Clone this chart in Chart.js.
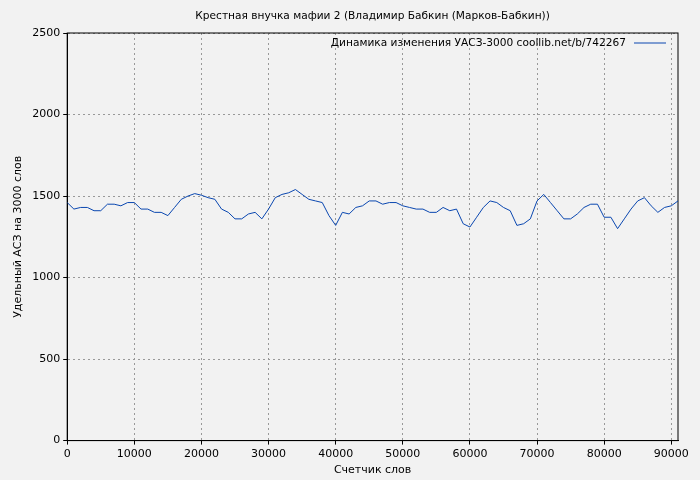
<!DOCTYPE html>
<html><head><meta charset="utf-8">
<script src="https://cdn.jsdelivr.net/npm/chart.js@4"></script>
<style>body{margin:0;background:#f2f2f2}#wrap{width:700px;height:480px}</style>
</head><body><div id="wrap"><canvas id="c"></canvas></div>
<script>
// words counted, one point per thousand
const words = [];
for (let i = 0; i <= 91; i++) words.push(i * 1000);
const uasz = [1460,1420,1430,1430,1410,1410,1450,1450,1440,1460,1460,1420,1420,1400,1400,1380,1430,1480,1500,1515,
  1505,1490,1480,1420,1400,1360,1360,1390,1400,1360,1420,1490,1510,1520,1540,1510,1480,1470,1460,1380,
  1320,1400,1390,1430,1440,1470,1470,1450,1460,1460,1440,1430,1420,1420,1400,1400,1430,1410,1420,1330,
  1310,1370,1430,1470,1460,1430,1410,1320,1330,1360,1470,1510,1460,1410,1360,1360,1390,1430,1450,1450,
  1370,1370,1300,1360,1420,1470,1490,1440,1400,1430,1440,1470];
const xTicks = [0,10000,20000,30000,40000,50000,60000,70000,80000,90000];
const chartTitle = 'Крестная внучка мафии 2 (Владимир Бабкин (Марков-Бабкин))';
const seriesLabel = 'Динамика изменения УАСЗ-3000 coollib.net/b/742267';

// title centred over the plot, legend inside top-right
const textPlugin = {
  id: 'texts',
  afterDraw(chart) {
    const { ctx, chartArea } = chart;
    ctx.save();
    ctx.font = '10.6px "DejaVu Sans"';
    ctx.fillStyle = '#000';
    ctx.textBaseline = 'middle';
    ctx.textAlign = 'center';
    ctx.fillText(chartTitle, (chartArea.left + chartArea.right) / 2, 16);
    ctx.textAlign = 'right';
    const y = chartArea.top + 10;
    ctx.fillText(seriesLabel, chartArea.right - 52, y);
    ctx.strokeStyle = '#0a47b0';
    ctx.lineWidth = 1;
    ctx.beginPath();
    ctx.moveTo(chartArea.right - 44, y);
    ctx.lineTo(chartArea.right - 12, y);
    ctx.stroke();
    ctx.restore();
  }
};

const font = { family: 'DejaVu Sans', size: 11 };

new Chart(document.getElementById('c'), {
  type: 'line',
  data: {
    datasets: [{
      data: words.map((w, i) => ({ x: w, y: uasz[i] })),
      borderColor: '#0a47b0',
      borderWidth: 1,
      pointRadius: 0,
      tension: 0
    }]
  },
  options: {
    responsive: true,
    maintainAspectRatio: false,
    animation: false,
    layout: { padding: { right: 22, left: 8, bottom: 3, top: 33 } },
    plugins: { legend: { display: false }, title: { display: false } },
    scales: {
      x: {
        type: 'linear', min: 0, max: 91000,
        afterBuildTicks: a => { a.ticks = xTicks.map(v => ({ value: v })); },
        ticks: { color: '#000', font, maxRotation: 0, callback: v => String(v) },
        grid: { color: '#999', tickColor: '#000', tickLength: 4 },
        border: { color: '#000', width: 1, dash: [2, 3] },
        title: { display: true, text: 'Счетчик слов', color: '#000', font, padding: 0 }
      },
      y: {
        min: 0, max: 2500,
        ticks: { stepSize: 500, color: '#000', font, callback: v => String(v) },
        grid: { color: '#999', tickColor: '#000', tickLength: 4 },
        border: { color: '#000', width: 1, dash: [2, 3] },
        title: { display: true, text: 'Удельный АСЗ на 3000 слов', color: '#000', font }
      }
    }
  },
  plugins: [textPlugin, {
    id: 'bg',
    beforeDraw(c) { c.ctx.save(); c.ctx.fillStyle = '#f2f2f2'; c.ctx.fillRect(0, 0, c.width, c.height); c.ctx.restore(); },
    beforeDatasetsDraw(c) {
      const { ctx, chartArea: a } = c;
      ctx.save(); ctx.strokeStyle = '#000'; ctx.lineWidth = 1;
      ctx.strokeRect(a.left, a.top, a.right - a.left, a.bottom - a.top); ctx.restore();
    }
  }]
});
</script>
</body></html>
